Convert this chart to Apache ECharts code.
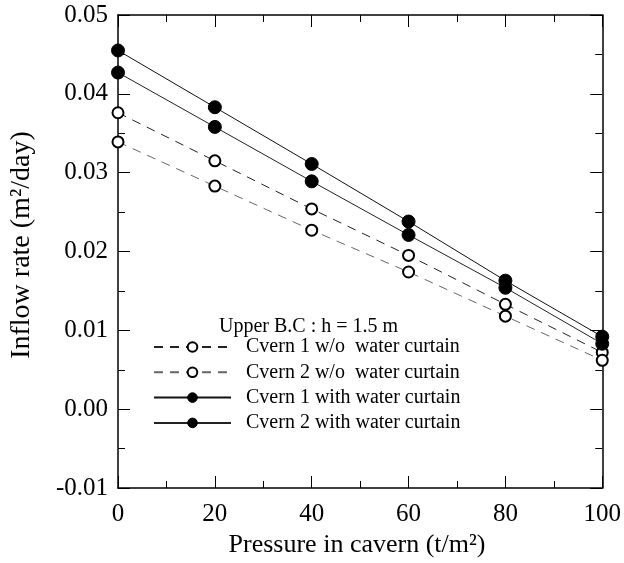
<!DOCTYPE html>
<html>
<head>
<meta charset="utf-8">
<script src="https://cdn.jsdelivr.net/npm/echarts@6/dist/echarts.min.js"></script>
<style>
  html, body { margin: 0; padding: 0; background: #fff; }
  #chart { width: 624px; height: 563px; }
</style>
</head>
<body>
<div id="chart"></div>
<script>
// pressure in cavern (t/m2)
var pressure = [0, 20, 40, 60, 80, 100];

// inflow rate (m2/day)
var cav1NoCurtain = [0.0376, 0.0315, 0.0254, 0.0195, 0.0133, 0.0072];
var cav2NoCurtain = [0.0339, 0.0283, 0.0227, 0.0174, 0.0118, 0.0062];
var cav1Curtain = [0.0455, 0.0383, 0.0311, 0.0238, 0.0163, 0.0092];
var cav2Curtain = [0.0427, 0.0358, 0.0289, 0.0221, 0.0154, 0.0083];

var seriesNames = [
    'Cvern 1 w/o  water curtain',
    'Cvern 2 w/o  water curtain',
    'Cvern 1 with water curtain',
    'Cvern 2 with water curtain'
];

var font = "'Liberation Serif', 'Times New Roman', serif";

function pairs(vals) {
    var out = [];
    for (var i = 0; i < pressure.length; i++) {
        out.push([pressure[i], vals[i]]);
    }
    return out;
}

function makeSeries(name, vals, filled, dashed, color) {
    return {
        name: name,
        type: 'line',
        data: pairs(vals),
        symbol: filled ? 'circle' : 'emptyCircle',
        symbolSize: filled ? 13 : 11,
        itemStyle: {color: '#000', borderColor: '#000', borderWidth: 1},
        lineStyle: {color: color, width: 1, type: dashed ? [9, 7] : 'solid'},
        emphasis: {disabled: true},
        z: filled ? 3 : 2
    };
}

var axisCommon = {
    axisLine: {show: true, onZero: false, lineStyle: {color: '#000', width: 1.5}},
    axisTick: {show: true, inside: true, length: 12, lineStyle: {color: '#000', width: 1}},
    minorTick: {show: true, splitNumber: 2, length: 7, lineStyle: {color: '#000', width: 1}},
    splitLine: {show: false}
};

var option = {
    backgroundColor: '#fff',
    animation: false,
    grid: {left: 118, right: 21, top: 15, bottom: 75},
    title: {
        text: 'Upper B.C : h = 1.5 m',
        left: 214,
        top: 312,
        textStyle: {fontFamily: font, fontSize: 20, fontWeight: 'normal', color: '#000'}
    },
    legend: {
        orient: 'vertical',
        left: 153,
        top: 337,
        padding: 0,
        itemWidth: 77,
        itemHeight: 12,
        itemGap: 5.3,
        data: seriesNames,
        selectedMode: false,
        itemStyle: {borderWidth: 1},
        textStyle: {fontFamily: font, fontSize: 20, lineHeight: 20, color: '#000', padding: [0, 0, 0, 10]}
    },
    graphic: [
        {
            type: 'text',
            x: 357, y: 545,
            style: {
                text: 'Pressure in cavern (t/m²)',
                font: "26px 'Liberation Serif', serif",
                fill: '#000', textAlign: 'center', textVerticalAlign: 'middle'
            }
        },
        {
            type: 'text',
            x: 22, y: 245,
            rotation: Math.PI / 2,
            style: {
                text: 'Inflow rate (m²/day)',
                font: "28px 'Liberation Serif', serif",
                fill: '#000', textAlign: 'center', textVerticalAlign: 'middle'
            }
        }
    ],
    xAxis: [
        Object.assign({
            type: 'value', position: 'bottom', min: 0, max: 100, interval: 20,
            axisLabel: {fontFamily: font, fontSize: 25, color: '#000', margin: 14}
        }, axisCommon),
        Object.assign({
            type: 'value', position: 'top', min: 0, max: 100, interval: 20,
            axisLabel: {show: false}
        }, axisCommon)
    ],
    yAxis: [
        Object.assign({
            type: 'value', position: 'left', min: -0.01, max: 0.05, interval: 0.01,
            axisLabel: {
                fontFamily: font, fontSize: 25, color: '#000', margin: 10,
                formatter: function (v) { return v.toFixed(2); }
            }
        }, axisCommon),
        Object.assign({
            type: 'value', position: 'right', min: -0.01, max: 0.05, interval: 0.01,
            axisLabel: {show: false}
        }, axisCommon)
    ],
    series: [
        makeSeries(seriesNames[0], cav1NoCurtain, false, true, '#222'),
        makeSeries(seriesNames[1], cav2NoCurtain, false, true, '#666'),
        makeSeries(seriesNames[2], cav1Curtain, true, false, '#111'),
        makeSeries(seriesNames[3], cav2Curtain, true, false, '#222')
    ]
};

var chart = echarts.init(document.getElementById('chart'));
chart.setOption(option);
</script>
</body>
</html>
